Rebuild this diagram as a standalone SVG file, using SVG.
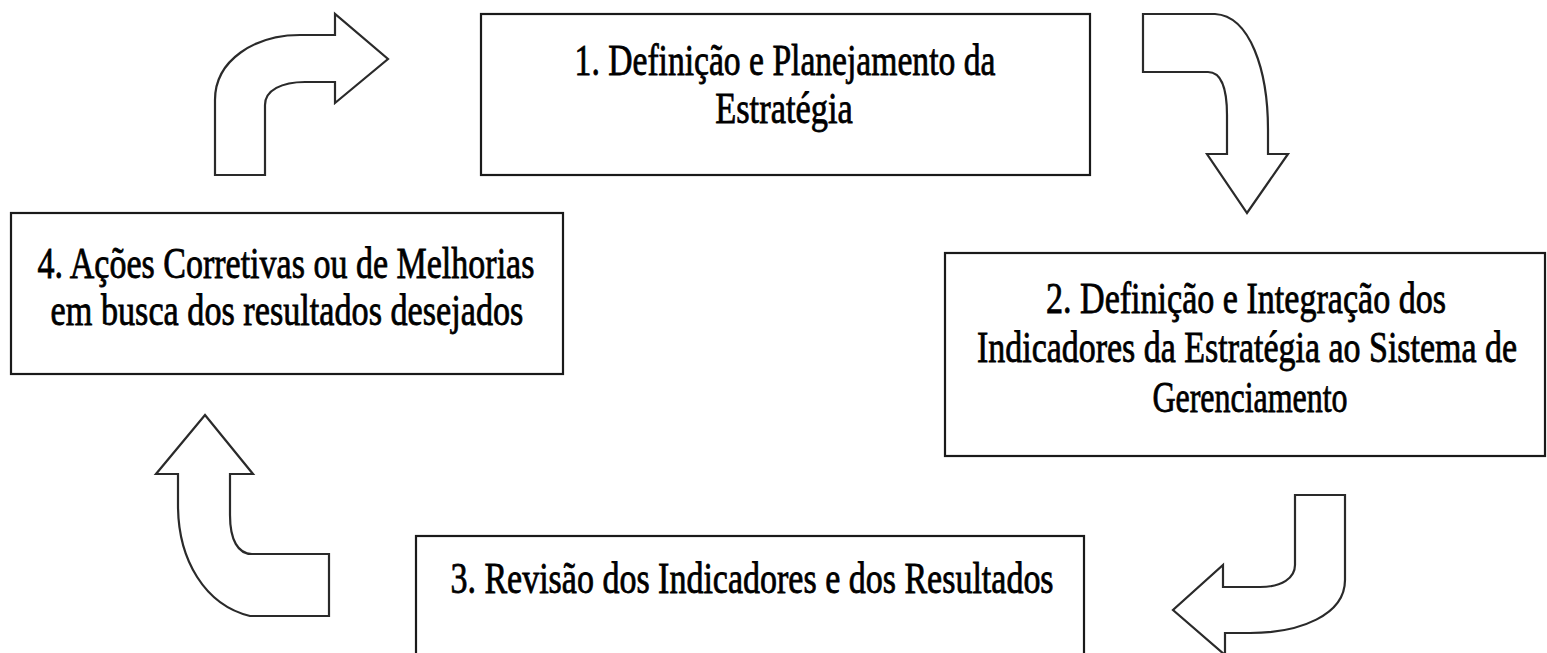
<svg xmlns="http://www.w3.org/2000/svg" width="1547" height="653" viewBox="0 0 1547 653">
<style>
.box{fill:#fff;stroke:#1a1a1a;stroke-width:2.2}
.arr{fill:#fff;stroke:#2a2a2a;stroke-width:2.2;stroke-linejoin:miter}
text{font-family:"Liberation Serif","Times New Roman",serif;font-size:44px;fill:#000;stroke:#000;stroke-width:0.8;text-anchor:middle}
</style>
<rect width="1547" height="653" fill="#fff"/>
<g id="node1">
<rect class="box" x="481" y="14" width="609" height="161"/>
<text transform="translate(785,75) scale(0.8,1)" x="0" y="0" textLength="526" lengthAdjust="spacingAndGlyphs">1. Definição e Planejamento da</text>
<text transform="translate(784,123) scale(0.8,1)" x="0" y="0" textLength="172" lengthAdjust="spacingAndGlyphs">Estratégia</text>
</g>
<g id="node2">
<rect class="box" x="945" y="253" width="600" height="203"/>
<text transform="translate(1246,313) scale(0.8,1)" x="0" y="0" textLength="500" lengthAdjust="spacingAndGlyphs">2. Definição e Integração dos</text>
<text transform="translate(1247,362) scale(0.8,1)" x="0" y="0" textLength="675" lengthAdjust="spacingAndGlyphs">Indicadores da Estratégia ao Sistema de</text>
<text transform="translate(1250,412) scale(0.8,1)" x="0" y="0" textLength="244" lengthAdjust="spacingAndGlyphs">Gerenciamento</text>
</g>
<g id="node3">
<rect class="box" x="416" y="536" width="668" height="130"/>
<text transform="translate(752,593) scale(0.8,1)" x="0" y="0" textLength="754" lengthAdjust="spacingAndGlyphs">3. Revisão dos Indicadores e dos Resultados</text>
</g>
<g id="node4">
<rect class="box" x="11" y="213" width="552" height="161"/>
<text transform="translate(286,278) scale(0.8,1)" x="0" y="0" textLength="621" lengthAdjust="spacingAndGlyphs">4. Ações Corretivas ou de Melhorias</text>
<text transform="translate(287,325) scale(0.8,1)" x="0" y="0" textLength="591" lengthAdjust="spacingAndGlyphs">em busca dos resultados desejados</text>
</g>
<g id="connectors">
<path class="arr" d="M215,175 L215,100 C215,60 255,35 300,35 L335,35 L335,14 L388,59 L335,103 L335,82 L305,82 C282,82 265,90 265,105 L265,175 Z"/>
<path class="arr" d="M1143,14 L1215,14 C1250,16 1268,70 1268,130 L1268,154 L1288,154 L1247,213 L1207,154 L1227,154 L1227,115 C1227,90 1222,72 1208,72 L1143,72 Z"/>
<path class="arr" d="M1295,495 L1345,495 L1345,580 C1345,615 1300,633 1250,633 L1225,633 L1225,655 L1173,610 L1223,565 L1223,587 L1260,587 C1282,587 1295,578 1295,565 Z"/>
<path class="arr" d="M205,415 L253,474 L230,474 L230,515 C230,540 238,554 252,554 L329,554 L329,616 L250,616 C205,605 178,560 178,505 L178,474 L156,474 Z"/>
</g>
</svg>
